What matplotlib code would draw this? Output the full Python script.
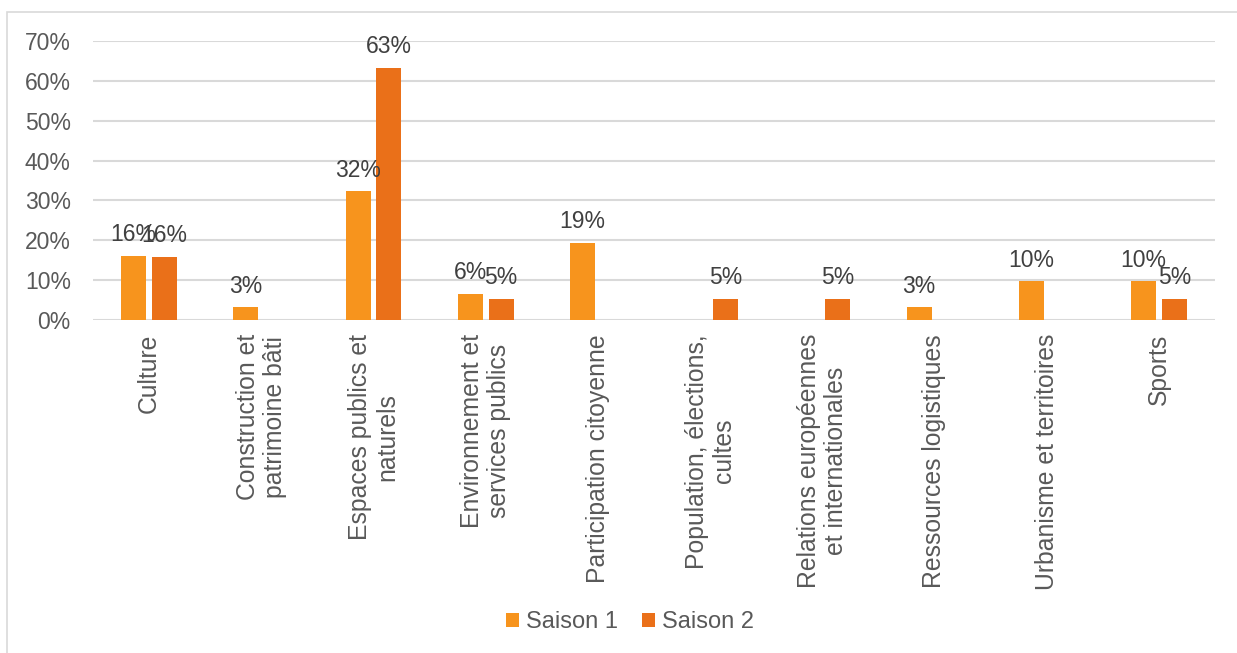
import numpy as np
import matplotlib
matplotlib.use("Agg")
import matplotlib.pyplot as plt
from matplotlib.patches import Rectangle
from matplotlib.ticker import PercentFormatter

categories = [
    "Culture",
    "Construction et\npatrimoine bâti",
    "Espaces publics et\nnaturels",
    "Environnement et\nservices publics",
    "Participation citoyenne",
    "Population, élections,\ncultes",
    "Relations européennes\net internationales",
    "Ressources logistiques",
    "Urbanisme et territoires",
    "Sports",
]
saison1 = [16.1, 3.2, 32.3, 6.5, 19.4, 0, 0, 3.2, 9.7, 9.7]
saison2 = [15.8, 0, 63.2, 5.3, 0, 5.3, 5.3, 0, 0, 5.3]
series_names = ["Saison 1", "Saison 2"]

colors = ["#F7941D", "#EA7019"]
text_grey = "#595959"
grid_grey = "#D9D9D9"

plt.rcParams["font.family"] = ["Liberation Sans", "DejaVu Sans"]

fig = plt.figure(figsize=(12.37, 6.53), dpi=100)
ax = fig.add_axes([93 / 1237, 1 - 320 / 653, (1215 - 93) / 1237, (320 - 41) / 653])

# outer chart border (light grey, only top/left visible in the reference)
fig.patches.append(Rectangle((7 / 1237, -0.1), 1.2, 1 - 12 / 653 + 0.1,
                             transform=fig.transFigure, fill=False,
                             edgecolor=grid_grey, linewidth=1.2))

x = np.arange(len(categories))
w = 0.223
off = 0.138
for vals, name, col, dx in zip([saison1, saison2], series_names, colors, [-off, off]):
    bars = ax.bar(x + dx, vals, width=w, color=col, label=name, zorder=3)
    for b, v in zip(bars, vals):
        if v == 0:
            continue
        ax.annotate(f"{v:.0f}%", (b.get_x() + b.get_width() / 2, v),
                    xytext=(0, 7), textcoords="offset points",
                    ha="center", va="bottom", fontsize=16.5,
                    color="#404040", clip_on=False, zorder=4)

ax.set_xlim(-0.5, len(categories) - 0.5)
ax.set_ylim(0, 70)
ax.set_yticks(np.arange(0, 71, 10))
ax.yaxis.set_major_formatter(PercentFormatter(decimals=0))
ax.grid(axis="y", color=grid_grey, linewidth=1.5, zorder=0)
ax.set_axisbelow(True)
for s in ax.spines.values():
    s.set_visible(False)
ax.tick_params(axis="y", length=0, pad=16, labelsize=16.5, labelcolor=text_grey)
ax.tick_params(axis="x", length=0, pad=10)

ax.set_xticks(x)
ax.set_xticklabels(categories, rotation=90, ha="center", va="top",
                   multialignment="center", fontsize=17.8, color=text_grey,
                   linespacing=1.15)

leg = ax.legend(loc="center", bbox_to_anchor=(630 / 1237, 1 - 622 / 653),
                bbox_transform=fig.transFigure, ncol=2, frameon=False,
                fontsize=17, handlelength=0.55, handleheight=0.55,
                handletextpad=0.3, columnspacing=1.0, labelcolor=text_grey)

fig.savefig("out.png", dpi=100)
